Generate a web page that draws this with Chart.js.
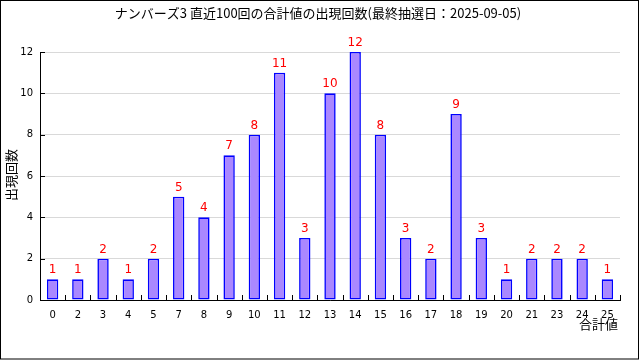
<!DOCTYPE html>
<html><head><meta charset="utf-8">
<script src="https://cdn.jsdelivr.net/npm/chart.js@4/dist/chart.umd.min.js"></script>
<style>html,body{margin:0;padding:0;background:#fff}canvas{display:block}</style>
</head><body>
<canvas id="c" width="640" height="360"></canvas>
<script>
const categories = ['0','2','3','4','5','7','8','9','10','11','12','13','14','15','16','17','18','19','20','21','23','24','25'];
const counts = [1,1,2,1,2,5,4,7,8,11,3,10,12,8,3,2,9,3,1,2,2,2,1];
const titleText = 'ナンバーズ3 直近100回の合計値の出現回数(最終抽選日：2025-09-05)';
const yTitle = '出現回数';
const xTitle = '合計値';

const JP = "'Noto Sans CJK JP', 'DejaVu Sans', sans-serif";
const NUM = "'DejaVu Sans', sans-serif";

const deco = {
  id: 'deco',
  beforeDraw(chart) {
    const ctx = chart.ctx;
    ctx.save();
    ctx.fillStyle = '#fff';
    ctx.fillRect(0, 0, chart.width, chart.height);
    ctx.restore();
  },
  afterDraw(chart) {
    const ctx = chart.ctx;
    const x = chart.scales.x, y = chart.scales.y;
    const a = chart.chartArea;
    ctx.save();
    ctx.strokeStyle = '#000';
    ctx.lineWidth = 1;
    y.ticks.forEach(t => {
      const py = Math.round(y.getPixelForValue(t.value)) + 0.5;
      ctx.beginPath(); ctx.moveTo(a.left, py); ctx.lineTo(a.left + 5, py); ctx.stroke();
    });
    const n = categories.length;
    for (let i = 0; i <= n; i++) {
      const px = Math.round(a.left + (a.right - a.left) * i / n) + 0.5;
      ctx.beginPath(); ctx.moveTo(px, a.bottom); ctx.lineTo(px, a.bottom - 5); ctx.stroke();
    }
    ctx.beginPath();
    ctx.moveTo(a.left + 0.5, a.top); ctx.lineTo(a.left + 0.5, a.bottom + 0.5); ctx.lineTo(a.right + 1, a.bottom + 0.5);
    ctx.stroke();
    const meta = chart.getDatasetMeta(0);
    ctx.fillStyle = '#ff0000';
    ctx.font = '12px ' + NUM;
    ctx.textAlign = 'center';
    ctx.textBaseline = 'alphabetic';
    meta.data.forEach((bar, i) => {
      ctx.fillText(String(counts[i]), bar.x, bar.y - 6);
    });
    ctx.fillStyle = '#000';
    ctx.font = '13px ' + JP;
    ctx.textBaseline = 'middle';
    ctx.fillText(titleText, 318, 13);
    ctx.textAlign = 'right';
    ctx.fillText(xTitle, 618, 324);
    ctx.translate(11, 175);
    ctx.rotate(-Math.PI / 2);
    ctx.textAlign = 'center';
    ctx.fillText(yTitle, 0, 0);
    ctx.restore();
    ctx.save();
    ctx.strokeStyle = '#000';
    ctx.lineWidth = 1;
    ctx.strokeRect(0.5, 0.5, 638, 358.5);
    ctx.restore();
  }
};

new Chart(document.getElementById('c'), {
  type: 'bar',
  data: {
    labels: categories,
    datasets: [{
      data: counts,
      backgroundColor: '#aa88ff',
      borderColor: '#0000ff',
      borderWidth: 1.6,
      borderSkipped: false,
      categoryPercentage: 1.0,
      barPercentage: 0.45
    }]
  },
  options: {
    responsive: false,
    animation: false,
    devicePixelRatio: 1,
    layout: { padding: { top: 52, right: 20, left: 0, bottom: 0 } },
    plugins: { legend: { display: false }, title: { display: false }, tooltip: { enabled: false } },
    scales: {
      x: {
        afterFit(s) { s.height = 60; },
        grid: { display: false, drawTicks: false },
        border: { display: false },
        ticks: { color: '#000', font: { family: NUM, size: 10 }, padding: 9, maxRotation: 0, autoSkip: false }
      },
      y: {
        min: 0, max: 12,
        afterFit(s) { s.width = 40; },
        grid: { color: '#d9d9d9', drawTicks: false },
        border: { display: false },
        ticks: { stepSize: 2, color: '#000', font: { family: NUM, size: 10 }, padding: 7 }
      }
    }
  },
  plugins: [deco]
});
</script>
</body></html>
